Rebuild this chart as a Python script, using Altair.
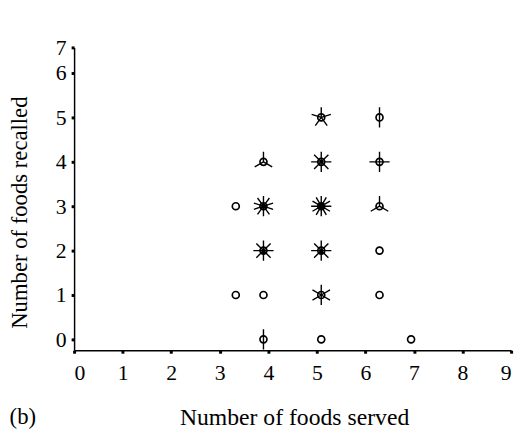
import math
import altair as alt
import pandas as pd

# Sunflower plot data: each point's position and the number of observations there
foods_served = [3.33, 3.33, 3.9, 3.9, 3.9, 3.9, 3.9, 5.09, 5.09, 5.09, 5.09, 5.09, 5.09,
                6.29, 6.29, 6.29, 6.29, 6.29, 6.94]
foods_recalled = [1, 3, 0, 1, 2, 3, 4, 0, 1, 2, 3, 4, 5, 1, 2, 3, 4, 5, 0]
counts = [1, 1, 2, 1, 8, 10, 3, 1, 6, 8, 12, 8, 5, 1, 1, 3, 4, 2, 1]

x_ticks = list(range(0, 10))
y_ticks = list(range(0, 8))
panel_label = ["(b)"]
x_title = "Number of foods served"
y_title = "Number of foods recalled"


def petals(n):
    # sunflower glyph: n rays from the centre, first ray pointing up
    if n < 2:
        return ""
    parts = []
    for k in range(n):
        a = math.pi / 2 + 2 * math.pi * k / n
        parts.append(f"M0,0L{math.cos(a):.4f},{-math.sin(a):.4f}")
    return "".join(parts)


df = pd.DataFrame({
    "served": foods_served,
    "recalled": foods_recalled,
    "count": counts,
})
df["glyph"] = [petals(c) for c in counts]

W, H = 443, 307
FONT = "Liberation Serif"

xscale = alt.Scale(domain=[0, 9], nice=False, zero=False)
yscale = alt.Scale(domain=[-0.245, 6, 7], range=[H, 26, 0], nice=False, zero=False)

xaxis = alt.Axis(values=x_ticks, title=x_title, titleX=223, titleY=75,
                 titleAlign="center", titleBaseline="alphabetic", titleFontSize=24,
                 labelPadding=10)
yaxis = alt.Axis(values=y_ticks, title=y_title, titleX=-55, titleY=167,
                 titleAngle=270, titleAlign="center", titleBaseline="middle",
                 titleFontSize=23, labelPadding=5)

base = alt.Chart(df)

centers = base.mark_point(shape="circle", size=50, filled=False, stroke="black",
                          strokeWidth=1.7, opacity=1).encode(
    x=alt.X("served:Q", scale=xscale, axis=xaxis),
    y=alt.Y("recalled:Q", scale=yscale, axis=yaxis),
)

rays = base.transform_filter("datum.count > 1").mark_point(
    size=420, filled=False, stroke="black", strokeWidth=1.4, opacity=1
).encode(
    x=alt.X("served:Q", scale=xscale),
    y=alt.Y("recalled:Q", scale=yscale),
    shape=alt.Shape("glyph:N", scale=None, legend=None),
)

label = alt.Chart(pd.DataFrame({"t": panel_label})).mark_text(
    font=FONT, fontSize=23, color="black", align="center", baseline="alphabetic"
).encode(text="t:N", x=alt.value(-52), y=alt.value(382))

chart = alt.layer(centers, rays, label).properties(
    width=W, height=H,
    autosize=alt.AutoSizeParams(type="none"),
    padding={"left": 67, "top": 37, "right": 8, "bottom": 84},
    background="white",
).configure_axis(
    grid=False,
    labelFont=FONT, labelFontSize=22, labelColor="black",
    titleFont=FONT, titleFontWeight="normal", titleColor="black",
    domainColor="black", domainWidth=1.5,
    tickColor="black", tickWidth=3, tickSize=3,
).configure_view(stroke=None)

chart.save("out.html", embed_options={"renderer": "svg", "actions": False})
